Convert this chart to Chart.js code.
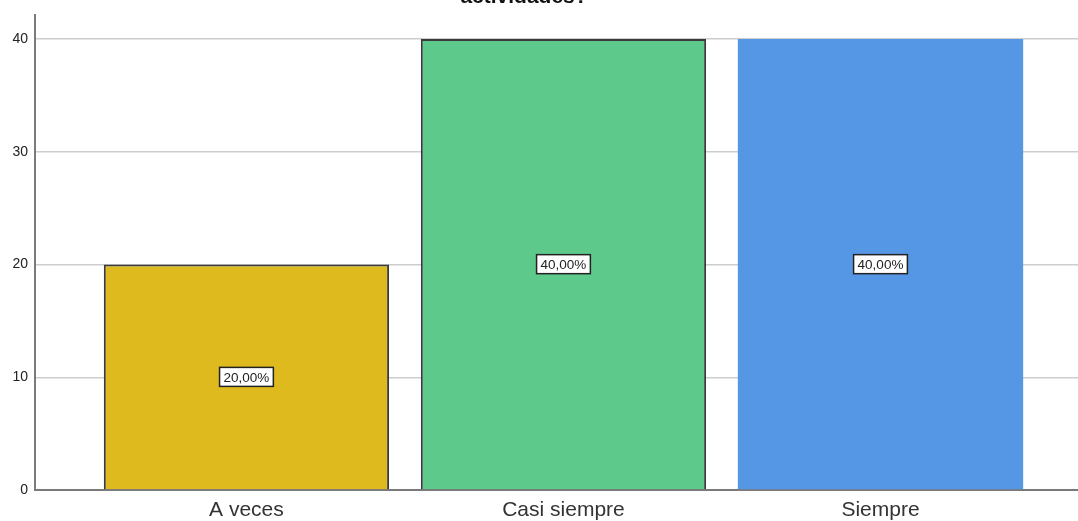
<!DOCTYPE html>
<html>
<head>
<meta charset="utf-8">
<script src="https://cdn.jsdelivr.net/npm/chart.js@4.4.1/dist/chart.umd.min.js"></script>
<style>
  html, body { margin: 0; padding: 0; background: #fff; overflow: hidden; }
  #chart { display: block; }
</style>
</head>
<body>
<canvas id="chart" width="1078" height="521"></canvas>
<script>
// datos
const categories = ['A veces', 'Casi siempre', 'Siempre'];
const values = [20, 40, 40];
const pctLabels = ['20,00%', '40,00%', '40,00%'];
const barColors = ['#dfba1f', '#5dc98a', '#5596e5'];
const borderWidths = [2, 2, 0];
const yTicks = [0, 10, 20, 30, 40];
const titleText = 'actividades?';

const FONT = "'Liberation Sans', Arial, sans-serif";

// titulo cortado arriba
const titlePlugin = {
    id: 'cutTitle',
    afterDraw(chart) {
        const c = chart.ctx;
        c.save();
        c.font = 'bold 21px ' + FONT;
        c.fillStyle = '#111';
        c.textAlign = 'center';
        c.textBaseline = 'alphabetic';
        c.fillText(titleText, 524, 3);
        c.restore();
    }
};

// etiquetas de porcentaje dentro de las barras
const boxLabels = {
    id: 'boxLabels',
    afterDatasetsDraw(chart) {
        const c = chart.ctx;
        const meta = chart.getDatasetMeta(0);
        c.save();
        c.font = '13.5px ' + FONT;
        c.textAlign = 'center';
        c.textBaseline = 'middle';
        meta.data.forEach((bar, i) => {
            const cx = bar.x;
            const cy = (bar.y + bar.base) / 2;
            const w = c.measureText(pctLabels[i]).width + 8;
            const h = 19;
            c.fillStyle = '#fff';
            c.fillRect(cx - w / 2, cy - h / 2, w, h);
            c.strokeStyle = '#222';
            c.lineWidth = 1.5;
            c.strokeRect(cx - w / 2, cy - h / 2, w, h);
            c.fillStyle = '#222';
            c.fillText(pctLabels[i], cx, cy + 1);
        });
        c.restore();
    }
};

const ctx = document.getElementById('chart').getContext('2d');
new Chart(ctx, {
    type: 'bar',
    data: {
        datasets: [{
            data: values.map((v, i) => ({ x: i, y: v })),
            backgroundColor: barColors,
            borderColor: '#3a3a3a',
            borderWidth: borderWidths,
            barPercentage: 0.9,
            categoryPercentage: 1
        }]
    },
    options: {
        responsive: false,
        animation: false,
        layout: { padding: { top: 14, right: 0, left: 0, bottom: 0 } },
        plugins: {
            legend: { display: false },
            tooltip: { enabled: false }
        },
        scales: {
            x: {
                type: 'linear',
                offset: false,
                min: -0.667,
                max: 2.623,
                afterBuildTicks: s => { s.ticks = categories.map((c, i) => ({ value: i })); },
                afterFit: s => { s.height = 31; },
                grid: { display: false, drawTicks: false, offset: false },
                border: { color: '#7a7a7a', width: 2 },
                ticks: {
                    callback: v => categories[v],
                    color: '#333',
                    font: { family: FONT, size: 21 },
                    padding: 8,
                    maxRotation: 0,
                    autoSkip: false
                }
            },
            y: {
                min: 0,
                max: 42.1,
                afterBuildTicks: s => { s.ticks = yTicks.map(v => ({ value: v })); },
                afterFit: s => { s.width = 35; },
                grid: { color: '#cdcdcd', lineWidth: 1.5, drawTicks: false },
                border: { color: '#7a7a7a', width: 2 },
                ticks: {
                    color: '#222',
                    font: { family: FONT, size: 14 },
                    padding: 7
                }
            }
        }
    },
    plugins: [boxLabels, titlePlugin]
});
</script>
</body>
</html>
